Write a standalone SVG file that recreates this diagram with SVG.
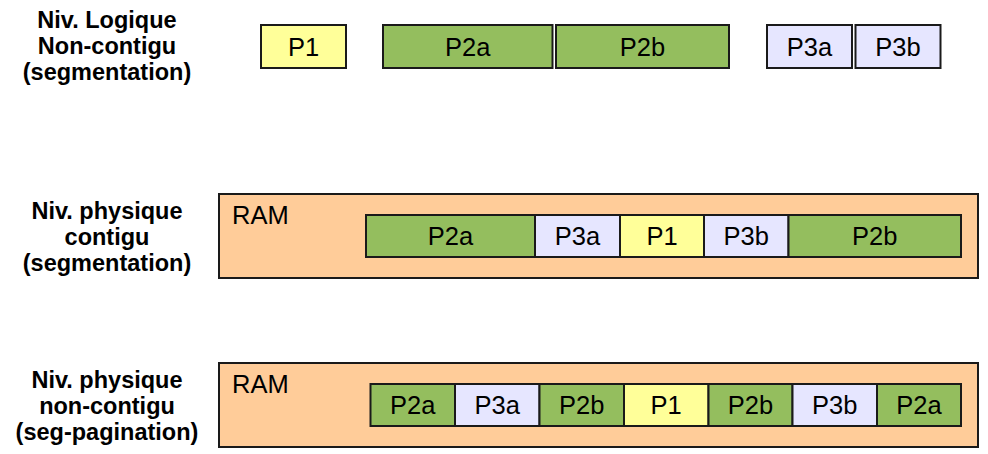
<svg xmlns="http://www.w3.org/2000/svg" width="988" height="454" viewBox="0 0 988 454">
  <style>
    .lbl { font-family: "Liberation Sans", Arial, sans-serif; font-weight: bold; font-size: 23.5px; fill: #000; text-anchor: middle; }
    .txt { font-family: "Liberation Sans", Arial, sans-serif; font-size: 25.5px; fill: #000; text-anchor: middle; }
    .ram { fill: #ffcc99; stroke: #1a1a1a; stroke-width: 2; }
    .seg { stroke: #1a1a1a; stroke-width: 2; }
    .y { fill: #ffff99; }
    .g { fill: #94be5e; }
    .v { fill: #e6e6ff; }
  </style>

  <!-- Row labels -->
  <g id="label-logique">
    <text class="lbl" x="107" y="28">Niv. Logique</text>
    <text class="lbl" x="107" y="54">Non-contigu</text>
    <text class="lbl" x="107" y="80">(segmentation)</text>
  </g>
  <g id="label-phys-contigu">
    <text class="lbl" x="107" y="219">Niv. physique</text>
    <text class="lbl" x="107" y="245">contigu</text>
    <text class="lbl" x="107" y="271">(segmentation)</text>
  </g>
  <g id="label-phys-noncontigu">
    <text class="lbl" x="107" y="388">Niv. physique</text>
    <text class="lbl" x="107" y="414">non-contigu</text>
    <text class="lbl" x="107" y="440">(seg-pagination)</text>
  </g>

  <!-- Logical segments -->
  <g id="log-P1"><rect class="seg y" x="261" y="25" width="85" height="43"/><text class="txt" x="303.5" y="56">P1</text></g>
  <g id="log-P2a"><rect class="seg g" x="383" y="25" width="169.5" height="43"/><text class="txt" x="467.8" y="56">P2a</text></g>
  <g id="log-P2b"><rect class="seg g" x="556" y="25" width="173" height="43"/><text class="txt" x="642.5" y="56">P2b</text></g>
  <g id="log-P3a"><rect class="seg v" x="767" y="25" width="85" height="43"/><text class="txt" x="809.5" y="56">P3a</text></g>
  <g id="log-P3b"><rect class="seg v" x="855.5" y="25" width="85" height="43"/><text class="txt" x="898" y="56">P3b</text></g>

  <!-- Physical memory, contiguous segments -->
  <g id="ram-contigu">
    <rect class="ram" x="219" y="194" width="759" height="84"/>
    <text class="txt" x="232" y="224" style="text-anchor:start">RAM</text>
  </g>
  <g id="c-P2a"><rect class="seg g" x="366" y="215" width="169" height="42"/><text class="txt" x="450.5" y="245">P2a</text></g>
  <g id="c-P3a"><rect class="seg v" x="535" y="215" width="85" height="42"/><text class="txt" x="577.5" y="245">P3a</text></g>
  <g id="c-P1"><rect class="seg y" x="620" y="215" width="84" height="42"/><text class="txt" x="662" y="245">P1</text></g>
  <g id="c-P3b"><rect class="seg v" x="704" y="215" width="84.5" height="42"/><text class="txt" x="746.2" y="245">P3b</text></g>
  <g id="c-P2b"><rect class="seg g" x="788.5" y="215" width="172.5" height="42"/><text class="txt" x="874.7" y="245">P2b</text></g>

  <!-- Physical memory, paged segments -->
  <g id="ram-paged">
    <rect class="ram" x="219" y="363" width="759" height="84"/>
    <text class="txt" x="232" y="393" style="text-anchor:start">RAM</text>
  </g>
  <g id="p-1"><rect class="seg g" x="370.5" y="384" width="84.5" height="42"/><text class="txt" x="412.7" y="414">P2a</text></g>
  <g id="p-2"><rect class="seg v" x="455" y="384" width="84.5" height="42"/><text class="txt" x="497.2" y="414">P3a</text></g>
  <g id="p-3"><rect class="seg g" x="539.5" y="384" width="84.5" height="42"/><text class="txt" x="581.7" y="414">P2b</text></g>
  <g id="p-4"><rect class="seg y" x="624" y="384" width="84.5" height="42"/><text class="txt" x="666.2" y="414">P1</text></g>
  <g id="p-5"><rect class="seg g" x="708.5" y="384" width="84" height="42"/><text class="txt" x="750.5" y="414">P2b</text></g>
  <g id="p-6"><rect class="seg v" x="792.5" y="384" width="84.5" height="42"/><text class="txt" x="834.7" y="414">P3b</text></g>
  <g id="p-7"><rect class="seg g" x="877" y="384" width="84" height="42"/><text class="txt" x="919" y="414">P2a</text></g>

  <g id="connectors"/>
</svg>
